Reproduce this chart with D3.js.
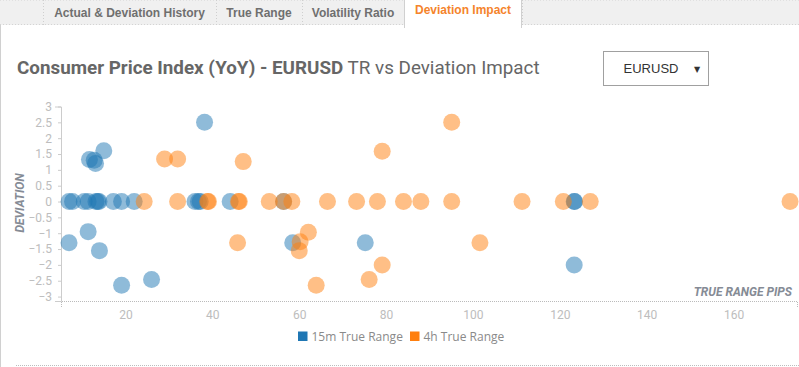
<!DOCTYPE html>
<html><head><meta charset="utf-8">
<script src="https://cdn.jsdelivr.net/npm/d3@7"></script>
<style>
html,body{margin:0;padding:0;background:#fff;}
svg{display:block;}
</style></head>
<body>
<svg id="c" width="799" height="367"></svg>
<script>
// ---- data ----
const tabs = ["Actual & Deviation History", "True Range", "Volatility Ratio", "Deviation Impact"];
const seriesNames = ["15m True Range", "4h True Range"];
const tr15m = [7.0, 7.8, 10.5, 11.4, 13.2, 13.6, 13.9, 17.2, 19.1, 22.0, 36.0, 36.8, 37.2, 44.1, 56.4, 123.3, 123.4,
               38.2, 11.7, 12.8, 13.1, 15.0, 11.4, 7.0, 14.0, 19.1, 26.0, 58.5, 75.2, 123.3];
const dev15m = [0, 0, 0, 0, 0, 0, 0, 0, 0, 0, 0, 0, 0, 0, 0, 0, 0,
                2.5, 1.33, 1.3, 1.2, 1.6, -0.95, -1.3, -1.55, -2.64, -2.46, -1.3, -1.3, -2.0];
const tr4h = [24.3, 32.0, 38.9, 39.1, 46.0, 46.2, 53.1, 56.4, 58.3, 66.5, 73.2, 78.0, 84.0, 88.0, 95.1, 111.3, 120.8, 127.0, 173.0,
              29.0, 32.0, 47.1, 45.8, 95.1, 79.1, 62.1, 60.2, 60.0, 101.6, 79.1, 76.1, 63.9];
const dev4h = [0, 0, 0, 0, 0, 0, 0, 0, 0, 0, 0, 0, 0, 0, 0, 0, 0, 0, 0,
               1.34, 1.34, 1.26, -1.3, 2.5, 1.59, -0.97, -1.27, -1.55, -1.3, -2.0, -2.46, -2.64];
const xTicks = [20, 40, 60, 80, 100, 120, 140, 160];
const yTicks = [3, 2.5, 2, 1.5, 1, 0.5, 0, -0.5, -1, -1.5, -2, -2.5, -3];
const colors = ["#1f77b4", "#ff7f0e"];

const svg = d3.select("#c");

// ---- tabs bar ----
svg.append("rect").attr("x",0).attr("y",0).attr("width",799).attr("height",25).attr("fill","#f0f0f0");
svg.append("line").attr("x1",0).attr("x2",799).attr("y1",24.5).attr("y2",24.5)
  .attr("stroke","#d4d4d4").attr("stroke-dasharray","1,2");
svg.append("line").attr("x1",0).attr("x2",799).attr("y1",0.5).attr("y2",0.5)
  .attr("stroke","#e0e0e0").attr("stroke-dasharray","1,2");
const tabEdges = [43, 216, 302, 404, 522];
tabEdges.forEach(x => {
  svg.append("line").attr("x1",x+0.5).attr("x2",x+0.5).attr("y1",0).attr("y2",25)
    .attr("stroke","#cfcfcf").attr("stroke-dasharray","1,2");
});
svg.append("rect").attr("x",404).attr("y",0).attr("width",118).attr("height",28).attr("fill","#fff");
svg.append("line").attr("x1",404.5).attr("x2",404.5).attr("y1",0).attr("y2",28).attr("stroke","#d0d0d0");
svg.append("line").attr("x1",521.5).attr("x2",521.5).attr("y1",0).attr("y2",28).attr("stroke","#d0d0d0");
tabs.forEach((t,i) => {
  const cx = (tabEdges[i] + tabEdges[i+1]) / 2;
  svg.append("text").attr("x", cx).attr("y", i === 3 ? 14 : 17)
    .attr("text-anchor","middle")
    .attr("font-family","'Liberation Sans', Arial, sans-serif")
    .attr("font-weight","bold").attr("font-size", 12)
    .attr("fill", i === 3 ? "#f5842c" : "#6f6f6f")
    .text(t);
});

// page borders
svg.append("line").attr("x1",0.5).attr("x2",0.5).attr("y1",25).attr("y2",367).attr("stroke","#d0d0d0");
svg.append("line").attr("x1",16).attr("x2",799).attr("y1",365.5).attr("y2",365.5)
  .attr("stroke","#bdbdbd").attr("stroke-dasharray","1,1");

// ---- title ----
const title = svg.append("text").attr("x",17).attr("y",74)
  .attr("font-family","Roboto, 'Liberation Sans', sans-serif").attr("font-size",18).attr("fill","#666");
title.append("tspan").attr("font-weight","bold").text("Consumer Price Index (YoY) - EURUSD");
title.append("tspan").text(" TR vs Deviation Impact");
const tw = title.node().getComputedTextLength();
title.attr("font-size", 18 * 523 / tw);

// ---- dropdown ----
svg.append("rect").attr("x",603.5).attr("y",51.5).attr("width",105).attr("height",34)
  .attr("fill","#fff").attr("stroke","#a0a0a0");
svg.append("text").attr("x",651).attr("y",73).attr("text-anchor","middle")
  .attr("font-family","'Liberation Sans', Arial, sans-serif").attr("font-size",13).attr("fill","#333")
  .text("EURUSD");
svg.append("text").attr("x",697).attr("y",72).attr("text-anchor","middle")
  .attr("font-family","'DejaVu Sans', sans-serif").attr("font-size",8).attr("fill","#333")
  .text("▼");

// ---- scales ----
const x = d3.scaleLinear().domain([5.15, 174.6]).range([61, 797]);
const y = d3.scaleLinear().domain([-3.14, 3]).range([301, 106.5]);

// y axis
const ya = svg.append("g").attr("transform","translate(61,0)")
  .call(d3.axisLeft(y).tickValues(yTicks).tickSizeInner(3).tickSizeOuter(6).tickPadding(6)
        .tickFormat(d3.format("")));
ya.select(".domain").attr("stroke","#cccccc");
ya.selectAll(".tick line").attr("stroke","#cccccc");
ya.selectAll("text").attr("fill","#bdbdbd").attr("font-family","Roboto, sans-serif").attr("font-size",12);

// x axis
const xa = svg.append("g").attr("transform","translate(0,301)")
  .call(d3.axisBottom(x).tickValues(xTicks).tickSizeInner(0).tickSizeOuter(6).tickPadding(9));
xa.select(".domain").attr("stroke","#bbbbbb").attr("stroke-dasharray","1,1");
xa.selectAll(".tick line").remove();
xa.selectAll("text").attr("fill","#bdbdbd").attr("font-family","Roboto, sans-serif").attr("font-size",12);

// axis labels
svg.append("text").attr("transform","translate(24,203) rotate(-90)").attr("text-anchor","middle")
  .attr("font-family","Roboto, sans-serif").attr("font-weight","bold").attr("font-style","italic")
  .attr("font-size",12).attr("fill","#858b95").text("DEVIATION");
svg.append("text").attr("x",792).attr("y",296).attr("text-anchor","end")
  .attr("font-family","Roboto, sans-serif").attr("font-weight","bold").attr("font-style","italic")
  .attr("font-size",12).attr("fill","#858b95").text("TRUE RANGE PIPS");

// ---- points ----
const series = [
  {name: seriesNames[0], xs: tr15m, ys: dev15m, color: colors[0]},
  {name: seriesNames[1], xs: tr4h, ys: dev4h, color: colors[1]}
];
series.forEach(s => {
  svg.append("g").selectAll("circle").data(s.xs.map((v,i)=>[v, s.ys[i]])).join("circle")
    .attr("cx", d => x(d[0])).attr("cy", d => y(d[1])).attr("r", 8.5)
    .attr("fill", s.color).attr("fill-opacity", 0.5);
});

// ---- legend ----
const lg = svg.append("g");
const legX = [298, 410];
series.forEach((s,i) => {
  lg.append("rect").attr("x",legX[i]).attr("y",331.5).attr("width",9.5).attr("height",9.5).attr("fill",s.color);
  lg.append("text").attr("x",legX[i]+13.5).attr("y",340.5)
    .attr("font-family","'Open Sans', sans-serif").attr("font-size",12).attr("fill","#8a8a8a")
    .text(s.name);
});
</script>
</body></html>
